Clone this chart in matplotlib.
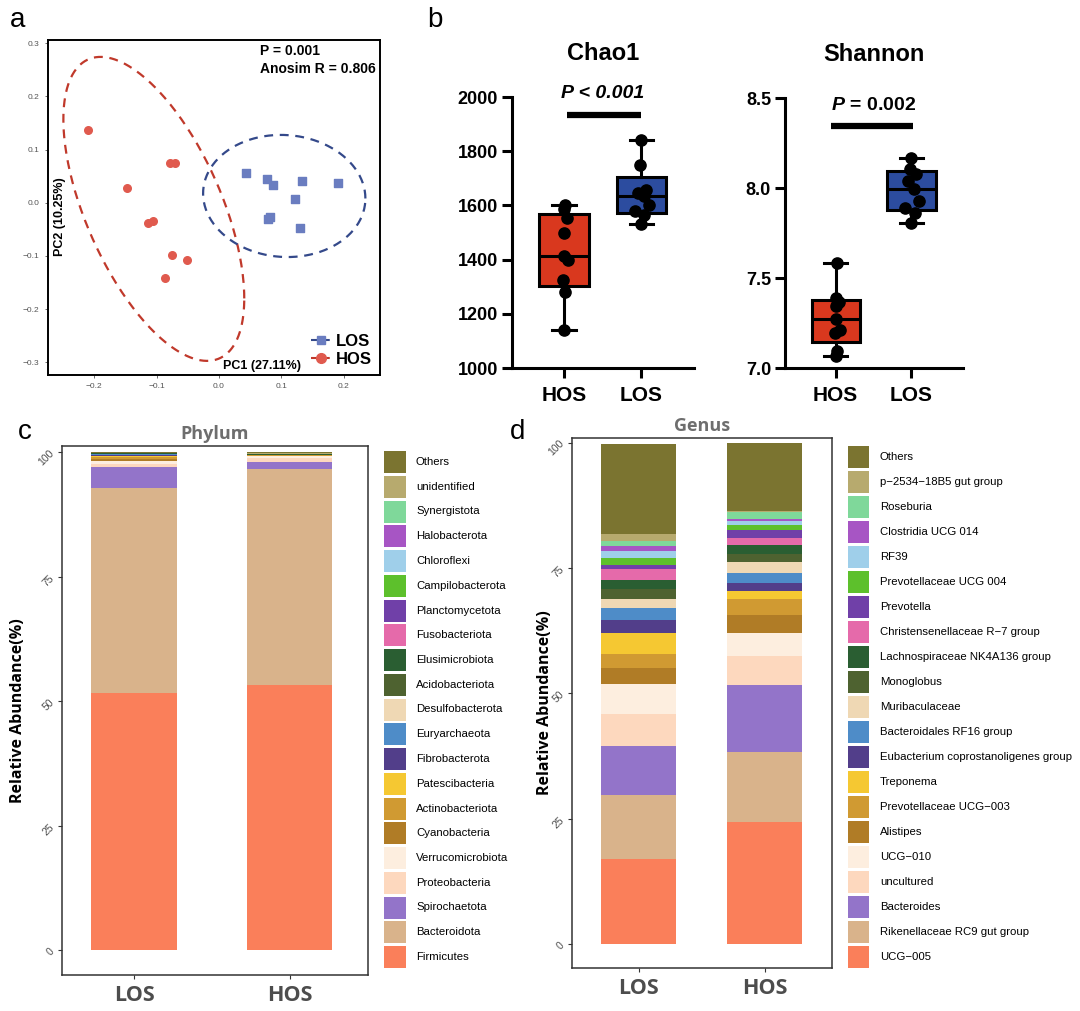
import numpy as np
import matplotlib
matplotlib.use("Agg")
import matplotlib.pyplot as plt
from matplotlib.lines import Line2D

plt.rcParams['font.family'] = ['Liberation Sans', 'DejaVu Sans']
plt.rcParams['mathtext.fontset'] = 'custom'
plt.rcParams['mathtext.it'] = 'Liberation Sans:italic:bold'
plt.rcParams['mathtext.rm'] = 'Liberation Sans:bold'

# ---------------- data ----------------
# a: PCoA scores
hos_pc1 = [-0.210, -0.147, -0.114, -0.106, -0.079, -0.071, -0.075, -0.051, -0.087]
hos_pc2 = [0.137, 0.0275, -0.038, -0.034, 0.075, 0.075, -0.099, -0.107, -0.141]
los_pc1 = [0.043, 0.077, 0.086, 0.133, 0.190, 0.122, 0.082, 0.078, 0.130]
los_pc2 = [0.056, 0.044, 0.034, 0.040, 0.038, 0.0075, -0.027, -0.031, -0.0475]
F95_2_8 = 4.459  # qf(0.95, 2, n-1) for n = 9

# b: alpha diversity
groups_b = ["HOS", "LOS"]
chao1_hos = [1139, 1280, 1323, 1397, 1412, 1497, 1555, 1585, 1602]
chao1_los = [1530, 1565, 1578, 1602, 1634, 1646, 1658, 1749, 1841]
shannon_hos = [7.067, 7.093, 7.192, 7.210, 7.275, 7.346, 7.368, 7.391, 7.583]
shannon_los = [7.806, 7.862, 7.890, 7.930, 7.992, 8.040, 8.080, 8.104, 8.169]
jit_hos = [0.0, 0.01, -0.01, 0.05, 0.0, 0.0, 0.04, 0.0, 0.01]
jit_los = [0.0, 0.04, -0.08, 0.10, 0.03, -0.04, 0.06, -0.02, 0.0]

# c/d: relative abundance (bottom -> top)
groups_cd = ["LOS", "HOS"]
phylum_names = ["Firmicutes", "Bacteroidota", "Spirochaetota", "Proteobacteria",
                "Verrucomicrobiota", "Cyanobacteria", "Actinobacteriota",
                "Patescibacteria", "Fibrobacterota", "Euryarchaeota",
                "Desulfobacterota", "Acidobacteriota", "Elusimicrobiota",
                "Fusobacteriota", "Planctomycetota", "Campilobacterota",
                "Chloroflexi", "Halobacterota", "Synergistota", "unidentified", "Others"]
phylum_los = [51.7, 41.2, 4.1, 0.6, 0.6, 0.45, 0.5, 0.15, 0.1, 0.2, 0.1, 0.05, 0.05,
              0.02, 0.02, 0.02, 0.02, 0.02, 0.02, 0.05, 0.05]
phylum_hos = [53.3, 43.3, 1.4, 0.9, 0.4, 0.05, 0.1, 0.02, 0.02, 0.02, 0.05, 0.02, 0.02,
              0.01, 0.01, 0.01, 0.01, 0.01, 0.01, 0.25, 0.1]
genus_names = ["UCG\u2212005", "Rikenellaceae RC9 gut group", "Bacteroides", "uncultured",
               "UCG\u2212010", "Alistipes", "Prevotellaceae UCG\u2212003", "Treponema",
               "Eubacterium coprostanoligenes group", "Bacteroidales RF16 group",
               "Muribaculaceae", "Monoglobus", "Lachnospiraceae NK4A136 group",
               "Christensenellaceae R\u22127 group", "Prevotella", "Prevotellaceae UCG 004",
               "RF39", "Clostridia UCG 014", "Roseburia", "p\u22122534\u221218B5 gut group", "Others"]
genus_los = [17.0, 12.8, 9.8, 6.3, 5.9, 3.3, 2.7, 4.2, 2.55, 2.55, 1.65, 2.15, 1.7, 2.1,
             0.85, 1.35, 1.4, 1.15, 0.9, 1.4, 18.0]
genus_hos = [24.3, 14.1, 13.2, 5.9, 4.6, 3.5, 3.3, 1.5, 1.7, 1.95, 2.05, 1.65, 1.8, 1.5,
             1.6, 1.0, 0.65, 0.55, 1.35, 0.1, 13.6]

palette = ["#FA7F5A", "#D9B38B", "#9374C9", "#FDD8BE", "#FDEEDF", "#B07C26", "#D09A32",
           "#F5C832", "#523E8A", "#4E8CC8", "#EFD8B4", "#4E6230", "#2A5E32", "#E56AAA",
           "#7040A8", "#5DC02C", "#9FCFEA", "#A755C4", "#7FD89A", "#B7AA6E", "#7B7430"]

W, H = 1080, 1011
fig = plt.figure(figsize=(W / 100, H / 100), dpi=100)


def fax(left, top, right, bottom):
    return fig.add_axes([left / W, 1 - bottom / H, (right - left) / W, (bottom - top) / H])


# ---------------- a: PCoA ----------------
def ellipse(x, y):
    x = np.asarray(x)
    y = np.asarray(y)
    c = np.array([x.mean(), y.mean()])
    chol = np.linalg.cholesky(np.cov(x, y))
    t = np.linspace(0, 2 * np.pi, 300)
    pts = c[:, None] + np.sqrt(2 * F95_2_8) * chol @ np.vstack([np.cos(t), np.sin(t)])
    return pts


ax = fax(48, 40, 380, 375)
red_pt, blue_pt = "#E05A4E", "#6A7DC0"
red_el, blue_el = "#C0392B", "#34498A"
e = ellipse(hos_pc1, hos_pc2)
ax.plot(e[0], e[1], ls=(0, (4, 3)), color=red_el, lw=1.6)
e = ellipse(los_pc1, los_pc2)
ax.plot(e[0], e[1], ls=(0, (4, 3)), color=blue_el, lw=1.6)
ax.scatter(hos_pc1, hos_pc2, s=30, color=red_pt, marker="o", zorder=3)
ax.scatter(los_pc1, los_pc2, s=28, color=blue_pt, marker="s", zorder=3)
ax.set_xlim(-0.274, 0.258)
ax.set_ylim(-0.324, 0.306)
ax.set_xticks([-0.2, -0.1, 0.0, 0.1, 0.2])
ax.set_yticks([-0.3, -0.2, -0.1, 0.0, 0.1, 0.2, 0.3])
ax.tick_params(labelsize=6, colors="#555555", length=2.5, width=0.6)
for sp in ax.spines.values():
    sp.set_linewidth(1.4)
ax.text(0.066, 0.286, "P = 0.001", fontsize=10, fontweight="bold", va="center")
ax.text(0.066, 0.251, "Anosim R = 0.806", fontsize=10, fontweight="bold", va="center")
ax.text(0.069, -0.307, "PC1 (27.11%)", fontsize=9, fontweight="bold", ha="center", va="center")
ax.text(-0.255, -0.027, "PC2 (10.25%)", fontsize=9, fontweight="bold", ha="center", va="center",
        rotation=90)
hd = [Line2D([0], [0], color=blue_el, ls="--", marker="s", mfc=blue_pt, mec=blue_pt, ms=6),
      Line2D([0], [0], color=red_el, ls="--", marker="o", mfc=red_pt, mec=red_pt, ms=7)]
ax.legend(hd, ["LOS", "HOS"], loc="lower right", frameon=False, handlelength=1.2,
          handletextpad=0.3, borderaxespad=0.1, labelspacing=0.15,
          prop={"size": 12, "weight": "bold"})


# ---------------- b: boxplots ----------------
def box_panel(ax, hos, los, ylim, yticks, fmt, title, ptext, ybar, ytext, bar_x):
    stats = []
    for v in (hos, los):
        v = np.asarray(v)
        stats.append(dict(med=np.percentile(v, 50, method="weibull"),
                          q1=np.percentile(v, 25, method="weibull"),
                          q3=np.percentile(v, 75, method="weibull"),
                          whislo=v.min(), whishi=v.max(), fliers=[]))
    lw = 2.2
    bp = ax.bxp(stats, positions=[0, 1], widths=0.64, patch_artist=True, showfliers=False,
                capwidths=0.3,
                boxprops=dict(edgecolor="black", linewidth=lw),
                medianprops=dict(color="black", linewidth=lw),
                whiskerprops=dict(color="black", linewidth=lw),
                capprops=dict(color="black", linewidth=lw))
    for patch, col in zip(bp["boxes"], ["#D9381E", "#2C4C9F"]):
        patch.set_facecolor(col)
    ax.scatter(np.array(jit_hos), hos, s=65, color="black", zorder=4, clip_on=False)
    ax.scatter(1 + np.array(jit_los), los, s=65, color="black", zorder=4, clip_on=False)
    ax.set_xlim(-0.67, 1.68)
    ax.set_ylim(*ylim)
    ax.set_yticks(yticks)
    ax.set_yticklabels([fmt.format(t) for t in yticks])
    ax.set_xticks([0, 1])
    ax.set_xticklabels(groups_b)
    for s in ("top", "right"):
        ax.spines[s].set_visible(False)
    for s in ("left", "bottom"):
        ax.spines[s].set_linewidth(lw)
    ax.tick_params(length=7, width=lw, pad=3)
    ax.tick_params(axis="y", labelsize=13)
    ax.tick_params(axis="x", labelsize=15, pad=6)
    for lab in ax.get_xticklabels() + ax.get_yticklabels():
        lab.set_fontweight("bold")
    ax.text(0.5, 1.162, title, transform=ax.transAxes, ha="center", va="center",
            fontsize=17, fontweight="bold")
    ax.plot(bar_x, [ybar, ybar], color="black", lw=4.5, solid_capstyle="butt")
    ax.text(0.5, ytext, ptext[0], ha="center", va="center", fontsize=14,
            fontweight="bold", fontstyle=ptext[1], clip_on=False)


ax = fax(512, 97, 694, 368)
box_panel(ax, chao1_hos, chao1_los, (1000, 2000), [1000, 1200, 1400, 1600, 1800, 2000],
          "{:d}", "Chao1", ("P < 0.001", "italic"), 1934, 2012, [0.04, 0.99])
ax = fax(785, 98, 963, 368)
box_panel(ax, shannon_hos, shannon_los, (7.0, 8.5), [7.0, 7.5, 8.0, 8.5],
          "{:.1f}", "Shannon", (r"$P$ = 0.002", "normal"), 8.345, 8.457, [-0.06, 1.02])


# ---------------- c/d: stacked bars ----------------
def stack_panel(ax, names, los, hos, width, xlim, ylim, title, ylab_x, tpad):
    cum = np.zeros(2)
    for i, name in enumerate(names):
        vals = np.array([los[i], hos[i]])
        ax.bar([0, 1], vals, bottom=cum, width=width, color=palette[i], linewidth=0)
        cum += vals
    ax.set_xlim(*xlim)
    ax.set_ylim(*ylim)
    ax.set_yticks([0, 25, 50, 75, 100])
    ax.set_xticks([0, 1])
    ax.set_xticklabels(groups_cd, fontsize=15.5, fontweight="bold", color="#4D4D4D",
                       family=["Open Sans", "DejaVu Sans"])
    for lab in ax.get_yticklabels():
        lab.set_rotation(45)
    ax.tick_params(axis="y", labelsize=7.5, labelcolor="#4D4D4D", length=3, width=0.8,
                   color="#333333", pad=1.5)
    ax.tick_params(axis="x", length=3, width=0.8, color="#333333", pad=4)
    for sp in ax.spines.values():
        sp.set_linewidth(1.1)
        sp.set_color("#333333")
    ax.set_ylabel("Relative Abundance(%)", fontsize=11.5, fontweight="bold",
                  family=["Open Sans", "DejaVu Sans"])
    ax.yaxis.set_label_coords(ylab_x, 0.5)
    ax.set_title(title, fontsize=13, fontweight="bold", color="#6E6E6E",
                 family=["Open Sans", "DejaVu Sans"], pad=tpad)


def legend_panel(names, left, first_center, pitch, sw):
    n = len(names)
    top = first_center - pitch / 2
    lax = fax(left, top, left + 230, top + n * pitch)
    lax.set_xlim(0, 230)
    lax.set_ylim(n - 0.5, -0.5)
    rows = np.arange(n)
    lax.barh(rows, sw, height=22 / pitch, left=0, color=palette[::-1], linewidth=0)
    for r, name in zip(rows, names[::-1]):
        lax.text(32, r, name, fontsize=8.2, va="center", ha="left")
    lax.axis("off")


ax = fax(62, 446, 368, 975)
stack_panel(ax, phylum_names, phylum_los, phylum_hos, 0.55, (-0.463, 1.504), (-5.0, 101.3),
            "Phylum", -0.118, 5)
legend_panel(phylum_names, 384, 462, 24.75, 22)
ax = fax(572, 438, 832, 968)
stack_panel(ax, genus_names, genus_los, genus_hos, 0.6, (-0.529, 1.535), (-4.7, 100.9),
            "Genus", -0.073, 5)
legend_panel(genus_names, 848, 457, 25.0, 21)

# panel letters
for x, y, s in [(18, 20, "a"), (435, 20, "b"), (25, 432, "c"), (518, 432, "d")]:
    fig.text(x / W, 1 - y / H, s, fontsize=20, ha="center", va="center")

fig.savefig("out.png", dpi=100)
